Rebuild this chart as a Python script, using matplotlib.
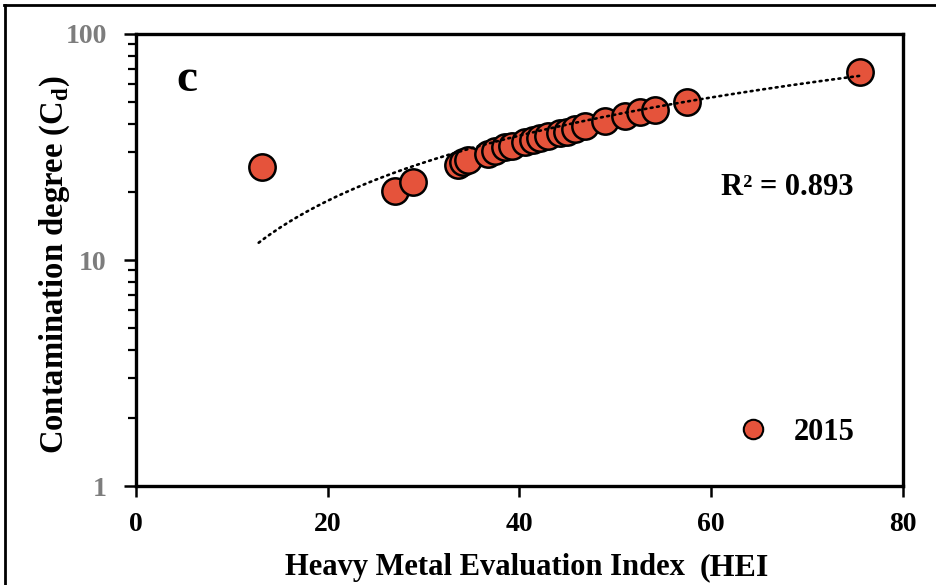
import numpy as np
import matplotlib
matplotlib.use("Agg")
import matplotlib.pyplot as plt
from matplotlib.lines import Line2D
from matplotlib.ticker import LogLocator, NullFormatter, FixedLocator

# HEI vs contamination degree, 2015 samples
hei = [13.1, 27.0, 28.9, 33.6, 34.1, 34.6, 36.7, 37.4, 38.5, 39.2, 40.6, 41.4,
       42.1, 43.0, 44.2, 45.0, 45.8, 46.8, 48.9, 51.0, 52.6, 54.1, 57.5, 75.5]
cd = [25.9, 20.1, 22.2, 26.4, 27.2, 27.8, 29.5, 30.4, 31.7, 32.0, 33.3, 34.0,
      34.7, 35.5, 36.6, 36.9, 38.1, 39.3, 41.3, 43.5, 45.3, 46.2, 50.1, 68.0]

# power trendline  Cd = a * HEI^b
trend_a = 1.037
trend_b = 0.958
r2_text = "R² = 0.893"
series_label = "2015"

x_ticks = [0, 20, 40, 60, 80]
y_ticks = [1, 10, 100]

serif = ["Liberation Serif", "DejaVu Serif"]
point_color = "#E5533B"

fig = plt.figure(figsize=(9.37, 5.85), dpi=100)
ax = fig.add_axes([0.1451, 0.1692, 0.8186, 0.7727])

ax.scatter(hei, cd, s=360, c=point_color, edgecolors="black", linewidths=1.8, zorder=3)

xt = np.linspace(min(hei) - 0.3, max(hei) + 0.2, 200)
ax.plot(xt, trend_a * xt ** trend_b, color="black", lw=1.9,
        linestyle=(0, (0.7, 1.7)), dash_capstyle="round", zorder=4)

ax.set_xlim(0, 80)
ax.set_yscale("log")
ax.set_ylim(1, 100)

ax.xaxis.set_major_locator(FixedLocator(x_ticks))
ax.set_xticklabels([str(v) for v in x_ticks])
ax.yaxis.set_major_locator(FixedLocator(y_ticks))
ax.set_yticklabels([str(v) for v in y_ticks])
ax.yaxis.set_minor_locator(LogLocator(base=10, subs=np.arange(2, 10)))
ax.yaxis.set_minor_formatter(NullFormatter())

for sp in ax.spines.values():
    sp.set_linewidth(2.4)

ax.tick_params(axis="x", which="major", direction="out", length=8, width=1.8,
               pad=11, labelsize=20, labelcolor="black")
ax.tick_params(axis="y", which="major", direction="out", length=9, width=1.8,
               pad=12, labelsize=20, labelcolor="#7d7d7d")
ax.tick_params(axis="y", which="minor", direction="out", length=6, width=1.6)
for lab in ax.get_xticklabels() + ax.get_yticklabels():
    lab.set_fontfamily(serif)
    lab.set_fontweight("bold")

ax.set_ylabel("Contamination degree (C$_\\mathregular{d}$)", fontsize=23.5,
              fontweight="bold", family=serif)
ax.yaxis.set_label_coords(-0.083, 0.49)

fig.text(0.5176, 0.030, "Heavy Metal Evaluation Index", fontsize=22,
         fontweight="bold", family=serif, ha="center", va="center")
fig.text(0.747, 0.030, "(HEI", fontsize=23, fontweight="bold", family=serif,
         ha="left", va="center")

ax.text(0.0665, 0.898, "c", transform=ax.transAxes, fontsize=34, fontweight="bold",
        family=serif, ha="center", va="center")
ax.text(0.849, 0.6615, r2_text, transform=ax.transAxes, fontsize=22,
        fontweight="bold", family=serif, ha="center", va="center")

handle = Line2D([], [], marker="o", linestyle="none", markersize=14,
                markerfacecolor=point_color, markeredgecolor="black",
                markeredgewidth=1.5)
ax.legend([handle], [series_label], loc="center right", bbox_to_anchor=(0.9375, 0.1195),
          frameon=False, borderpad=0, borderaxespad=0, handlelength=1.0,
          handletextpad=0.85,
          prop={"family": serif, "weight": "bold", "size": 22})

# outer frame of the figure
fig.add_artist(Line2D([0.004, 1.0], [0.9915, 0.9915], color="black", lw=2.0,
                      transform=fig.transFigure))
fig.add_artist(Line2D([0.005, 0.005], [0.0, 0.9915], color="black", lw=2.0,
                      transform=fig.transFigure))

fig.savefig("out.png", dpi=100)
